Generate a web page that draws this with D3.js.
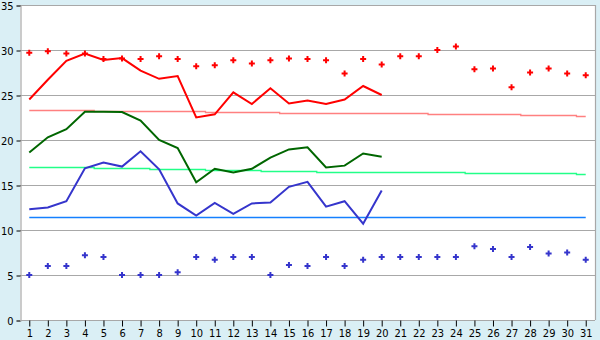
<!DOCTYPE html>
<html>
<head>
<meta charset="utf-8">
<script src="https://cdn.jsdelivr.net/npm/d3@7"></script>
<style>
  body { margin: 0; background: #daeff5; }
  svg { display: block; }
  text { font-family: "DejaVu Sans Condensed", "DejaVu Sans", sans-serif; font-size: 11px; fill: #000; }
</style>
</head>
<body>
<div id="chart"></div>
<script>
// 日付
var days = d3.range(1, 32);

// 最高気温（実測, 1〜20日）
var maxTemp = [24.5, 26.7, 28.8, 29.6, 28.9, 29.1, 27.7, 26.8, 27.1, 22.5,
               22.85, 25.3, 24.0, 25.75, 24.05, 24.4, 24.0, 24.5, 26.0, 25.0];
// 平均気温（実測）
var meanTemp = [18.6, 20.3, 21.2, 23.15, 23.15, 23.1, 22.15, 20.0, 19.1, 15.3,
                16.8, 16.4, 16.8, 18.05, 18.95, 19.2, 16.95, 17.15, 18.5, 18.15];
// 最低気温（実測）
var minTemp = [12.3, 12.5, 13.2, 16.85, 17.5, 17.05, 18.75, 16.75, 12.95, 11.6,
               13.0, 11.8, 12.95, 13.05, 14.8, 15.35, 12.6, 13.2, 10.7, 14.4];

// 平年値
var normMax = [23.3, 23.3, 23.3, 23.3, 23.2, 23.2, 23.2, 23.2, 23.2, 23.2,
               23.1, 23.1, 23.1, 23.1, 23.0, 23.0, 23.0, 23.0, 23.0, 23.0,
               23.0, 23.0, 22.9, 22.9, 22.9, 22.9, 22.9, 22.8, 22.8, 22.8, 22.7];
var normMean = [17.0, 17.0, 17.0, 17.0, 16.9, 16.9, 16.9, 16.8, 16.8, 16.8,
                16.7, 16.7, 16.7, 16.6, 16.6, 16.6, 16.5, 16.5, 16.5, 16.5,
                16.4, 16.4, 16.4, 16.4, 16.3, 16.3, 16.3, 16.3, 16.3, 16.3, 16.2];
var normMin = [11.4, 11.4, 11.4, 11.4, 11.5, 11.5, 11.5, 11.5, 11.5, 11.5,
               11.5, 11.5, 11.5, 11.5, 11.5, 11.5, 11.5, 11.5, 11.5, 11.5,
               11.5, 11.5, 11.5, 11.5, 11.5, 11.5, 11.5, 11.5, 11.5, 11.5, 11.5];

// 記録値（点）
var recHigh = [29.7, 29.85, 29.6, 29.6, 29.0, 29.05, 29.0, 29.3, 29.0, 28.2,
               28.3, 28.85, 28.5, 28.85, 29.05, 29.0, 28.85, 27.4, 29.0, 28.4,
               29.3, 29.3, 30.0, 30.4, 27.85, 27.95, 25.85, 27.5, 27.95, 27.4, 27.2];
var recLow = [5.0, 6.0, 6.0, 7.2, 7.0, 5.0, 5.0, 5.0, 5.3, 7.0,
              6.7, 7.0, 7.0, 5.0, 6.1, 6.0, 7.0, 6.0, 6.7, 7.0,
              7.0, 7.0, 7.0, 7.0, 8.2, 7.9, 7.0, 8.1, 7.4, 7.5, 6.7];

var yTicks = [0, 5, 10, 15, 20, 25, 30, 35];

var width = 600, height = 340;
var padL = 20, padR = 595, padT = 5, padB = 320;

var svg = d3.select("#chart").append("svg")
    .attr("width", width)
    .attr("height", height);

var x = d3.scalePoint().domain(days).range([padL, padR]).padding(0.5);
var y = d3.scaleLinear().domain([0, 35]).range([padB, padT]);

// プロット領域
svg.append("rect")
    .attr("x", padL).attr("y", padT)
    .attr("width", padR - padL).attr("height", padB - padT)
    .attr("fill", "#fff");

// グリッド
svg.append("g").selectAll("line")
    .data(yTicks.filter(function(d){ return d > 0; }))
    .enter().append("line")
    .attr("x1", padL).attr("x2", padR)
    .attr("y1", function(d){ return Math.round(y(d)) + 0.5; })
    .attr("y2", function(d){ return Math.round(y(d)) + 0.5; })
    .attr("stroke", "#a8a8a8")
    .attr("stroke-width", 1.2);

svg.append("line")
    .attr("x1", padR + 0.5).attr("x2", padR + 0.5)
    .attr("y1", padT).attr("y2", padB)
    .attr("stroke", "#a8a8a8").attr("stroke-width", 1.2);

// 軸
var axisY = d3.axisLeft(y).tickValues(yTicks).tickSize(4).tickPadding(3);
var gy = svg.append("g")
    .attr("transform", "translate(" + (padL + 0.5) + ",0.5)")
    .call(axisY);
var axisX = d3.axisBottom(x).tickSize(6).tickPadding(3);
var gx = svg.append("g")
    .attr("transform", "translate(0," + (padB + 0.5) + ")")
    .call(axisX);
[gy, gx].forEach(function(g){
  g.select(".domain").attr("stroke", "#a8a8a8").attr("stroke-width", 1.2);
  g.selectAll(".tick line").attr("stroke", "#000");
  g.selectAll("text").attr("font-size", null).attr("font-family", null);
});
gx.select(".domain").attr("d", "M" + padL + ",0H" + padR);

// 平年値（細線）
function stepLine(data, color){
  var line = d3.line()
      .x(function(d, i){ return x(days[i]); })
      .y(function(d){ return Math.round(y(d)) + 0.5; })
      .curve(d3.curveStep);
  svg.append("path")
      .datum(data)
      .attr("d", line)
      .attr("fill", "none")
      .attr("stroke", color)
      .attr("stroke-width", 1.3);
}
stepLine(normMax, "#ff8080");
stepLine(normMean, "#22ff88");
stepLine(normMin, "#1480ff");

// 実測値（太線）
function mainLine(data, color){
  var line = d3.line()
      .x(function(d, i){ return x(days[i]); })
      .y(function(d){ return y(d); });
  svg.append("path")
      .datum(data)
      .attr("d", line)
      .attr("fill", "none")
      .attr("stroke", color)
      .attr("stroke-width", 2);
}
mainLine(maxTemp, "#ff0000");
mainLine(meanTemp, "#006600");
mainLine(minTemp, "#3535cc");

// 点
var cross = d3.symbol().type(d3.symbolCross).size(20);
function dots(data, color){
  svg.append("g").selectAll("path")
      .data(data)
      .enter().append("path")
      .attr("d", cross)
      .attr("transform", function(d, i){ return "translate(" + x(days[i]) + "," + y(d) + ")"; })
      .attr("fill", color);
}
dots(recHigh, "#ff0000");
dots(recLow, "#3535cc");
</script>
</body>
</html>
